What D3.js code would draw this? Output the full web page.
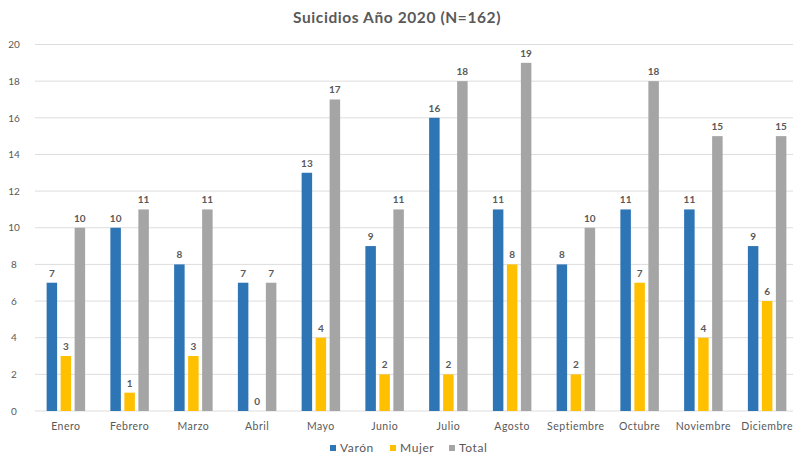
<!DOCTYPE html>
<html>
<head>
<meta charset="utf-8">
<script src="https://cdn.jsdelivr.net/npm/d3@7"></script>
<style>
  html, body { margin: 0; padding: 0; background: #ffffff; }
  svg { display: block; font-family: Lato, "Open Sans", "DejaVu Sans", sans-serif; }
</style>
</head>
<body>
<svg id="chart" width="793" height="457"></svg>
<script>
// Monthly counts, 2020
const months = ["Enero", "Febrero", "Marzo", "Abril", "Mayo", "Junio", "Julio",
                "Agosto", "Septiembre", "Octubre", "Noviembre", "Diciembre"];
const varon  = [7, 10, 8, 7, 13, 9, 16, 11, 8, 11, 11, 9];
const mujer  = [3, 1, 3, 0, 4, 2, 2, 8, 2, 7, 4, 6];
const total  = [10, 11, 11, 7, 17, 11, 18, 19, 10, 18, 15, 15];
const seriesNames = ["Varón", "Mujer", "Total"];
const yTicks = [0, 2, 4, 6, 8, 10, 12, 14, 16, 18, 20];

const colors = { "Varón": "#2e75b6", "Mujer": "#ffc000", "Total": "#a5a5a5" };
const textColor = "#595959";

const svg = d3.select("#chart");
const plotLeft = 35, plotRight = 793, plotTop = 44.5, plotBottom = 411;

const x = d3.scaleBand().domain(months).range([34, 799]).paddingInner(0).paddingOuter(0);
const barW = 10.5, gap = 3.5;
const groupW = 3 * barW + 2 * gap;
const xs = d3.scaleBand().domain(seriesNames)
  .range([0, groupW]).paddingInner(gap / (barW + gap)).paddingOuter(0);
const y = d3.scaleLinear().domain([0, 20]).range([plotBottom, plotTop]);

// title
svg.append("text")
  .attr("x", 397).attr("y", 23)
  .attr("text-anchor", "middle")
  .attr("font-size", 15.5).attr("font-weight", "bold")
  .attr("letter-spacing", 0.6)
  .attr("fill", textColor)
  .text("Suicidios Año 2020 (N=162)");

// gridlines
svg.append("g").selectAll("line").data(yTicks).join("line")
  .attr("x1", plotLeft).attr("x2", plotRight)
  .attr("y1", d => y(d)).attr("y2", d => y(d))
  .attr("stroke", "#dddddd").attr("stroke-width", 1);

// y axis labels
const yAxis = d3.axisLeft(y).tickValues(yTicks).tickSize(0).tickPadding(0);
const yg = svg.append("g").attr("transform", "translate(21,0)").call(yAxis);
yg.select(".domain").remove();
yg.selectAll("text").attr("font-size", 10).attr("fill", textColor)
  .attr("font-family", "Lato, 'Open Sans', sans-serif").attr("text-anchor", "middle").attr("x", -7);

// x axis labels
const xAxis = d3.axisBottom(x).tickSize(0).tickPadding(0);
const xg = svg.append("g").attr("transform", `translate(0,${plotBottom + 10})`).call(xAxis);
xg.select(".domain").remove();
xg.selectAll("text").attr("font-size", 10.5).attr("fill", textColor)
  .attr("letter-spacing", 0.5)
  .attr("font-family", "Lato, 'Open Sans', sans-serif").attr("dy", "0.9em");

// bars
const rows = months.map((m, i) => ({ month: m, values: [
  { key: "Varón", v: varon[i] }, { key: "Mujer", v: mujer[i] }, { key: "Total", v: total[i] }
]}));

const groups = svg.append("g").selectAll("g").data(rows).join("g")
  .attr("transform", d => `translate(${x(d.month) + (x.bandwidth() - groupW) / 2},0)`);

groups.selectAll("rect").data(d => d.values).join("rect")
  .attr("x", d => xs(d.key))
  .attr("width", xs.bandwidth())
  .attr("y", d => y(d.v))
  .attr("height", d => y(0) - y(d.v))
  .attr("fill", d => colors[d.key]);

groups.selectAll("text").data(d => d.values).join("text")
  .attr("x", d => xs(d.key) + xs.bandwidth() / 2)
  .attr("y", d => y(d.v) - 6)
  .attr("text-anchor", "middle")
  .attr("font-size", 10).attr("font-weight", "bold")
  .attr("fill", textColor)
  .text(d => d.v);

// legend
const legendX = [330, 390, 449];
const lg = svg.append("g").selectAll("g").data(seriesNames).join("g")
  .attr("transform", (d, i) => `translate(${legendX[i]},446)`);
lg.append("rect").attr("width", 6).attr("height", 6).attr("y", -1)
  .attr("fill", d => colors[d]);
lg.append("text").attr("x", 10).attr("y", 6)
  .attr("font-size", 12).attr("letter-spacing", 0.6)
  .attr("fill", textColor).text(d => d);
</script>
</body>
</html>
